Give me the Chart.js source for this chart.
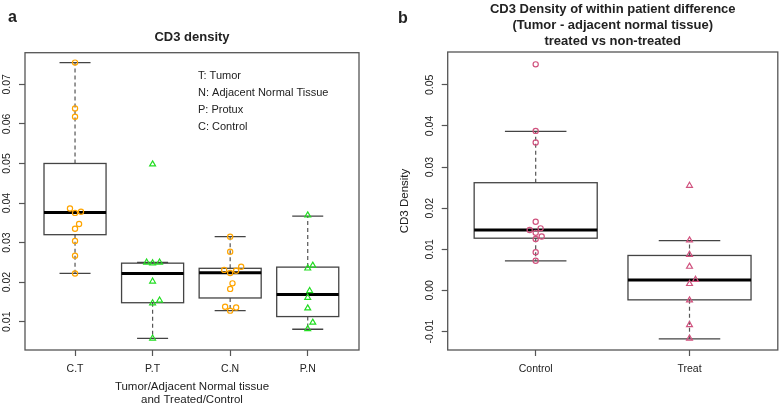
<!DOCTYPE html>
<html><head><meta charset="utf-8">
<script src="https://cdn.jsdelivr.net/npm/chart.js@4/dist/chart.umd.min.js"></script>
<style>
html,body{margin:0;padding:0;background:#fff;width:783px;height:405px;overflow:hidden}
#a{position:absolute;left:0;top:0}
#b{position:absolute;left:391px;top:0}
</style></head><body>
<canvas id="a" width="391" height="405"></canvas>
<canvas id="b" width="392" height="405"></canvas>
<script>
// ---------- Panel a data ----------
const catsA = ['C.T', 'P.T', 'C.N', 'P.N'];
const yTicksA = [0.01, 0.02, 0.03, 0.04, 0.05, 0.06, 0.07];
const yTickLabelsA = ['0.01', '0.02', '0.03', '0.04', '0.05', '0.06', '0.07'];
const whiskLoA = [0.0222, 0.0058, 0.0128, 0.0081];
const q1A      = [0.0320, 0.0148, 0.0160, 0.0113];
const medA     = [0.0376, 0.0222, 0.0224, 0.0169];
const q3A      = [0.0500, 0.0248, 0.0235, 0.0238];
const whiskHiA = [0.0755, 0.0250, 0.0315, 0.0367];

const ctVals = [0.0755, 0.0639, 0.0618, 0.0386, 0.0375, 0.0378, 0.0347, 0.0335, 0.0304, 0.0267, 0.0222];
const ctJit  = [0, 0, 0, -0.065, 0, 0.077, 0.052, 0, 0, 0, 0];
const ptVals = [0.0498, 0.0250, 0.0248, 0.0250, 0.0202, 0.0154, 0.0147, 0.0058];
const ptJit  = [0, -0.077, 0, 0.09, 0, 0.09, 0, 0];
const cnVals = [0.0315, 0.0277, 0.0239, 0.0231, 0.0223, 0.0229, 0.0197, 0.0183, 0.0138, 0.0128, 0.0136];
const cnJit  = [0, 0, 0.142, -0.077, 0, 0.077, 0.03, 0, -0.065, 0, 0.077];
const pnVals = [0.0369, 0.0242, 0.0235, 0.0178, 0.0161, 0.0134, 0.0098, 0.0082];
const pnJit  = [0, 0.065, 0, 0.025, 0, 0, 0.065, 0];
const legendLinesA = ['T: Tumor', 'N: Adjacent Normal Tissue', 'P: Protux', 'C: Control'];

// ---------- Panel b data ----------
const catsB = ['Control', 'Treat'];
const yTicksB = [-0.01, 0.00, 0.01, 0.02, 0.03, 0.04, 0.05];
const yTickLabelsB = ['-0.01', '0.00', '0.01', '0.02', '0.03', '0.04', '0.05'];
const whiskLoB = [0.0072, -0.0118];
const q1B      = [0.0127, -0.0023];
const medB     = [0.0147, 0.0025];
const q3B      = [0.0262, 0.0085];
const whiskHiB = [0.0387, 0.0121];
const controlVals = [0.0550, 0.0388, 0.0360, 0.0167, 0.0147, 0.0151, 0.0140, 0.0131, 0.0125, 0.0093, 0.0072];
const controlJit  = [0, 0, 0, 0, -0.039, 0.032, 0, 0.039, 0, 0, 0];
const treatVals = [0.0255, 0.0122, 0.0087, 0.0058, 0.0026, 0.0016, -0.0024, -0.0084, -0.0117];
const treatJit  = [0, 0, 0, 0, 0.039, 0, 0, 0, 0];

const FONT = "'Liberation Sans', Arial, sans-serif";
const FRAME = '#555';

function pts(vals, jit, g) { return vals.map((v, j) => ({x: g + jit[j], y: v})); }

const boxPlugin = {
  id: 'boxes',
  beforeDatasetsDraw(chart, args, o) {
    const x = chart.scales.x, y = chart.scales.y, ctx = chart.ctx;
    const py = v => y.getPixelForValue(v);
    ctx.save();
    o.med.forEach((m, i) => {
      const c = i + 1;
      const xc = x.getPixelForValue(c);
      const xl = x.getPixelForValue(c - 0.4), xr = x.getPixelForValue(c + 0.4);
      const cl = x.getPixelForValue(c - 0.2), cr = x.getPixelForValue(c + 0.2);
      ctx.strokeStyle = '#555'; ctx.lineWidth = 1.2;
      ctx.setLineDash([4, 3]);
      ctx.beginPath();
      ctx.moveTo(xc, py(o.q3[i])); ctx.lineTo(xc, py(o.hi[i]));
      ctx.moveTo(xc, py(o.q1[i])); ctx.lineTo(xc, py(o.lo[i]));
      ctx.stroke();
      ctx.setLineDash([]);
      ctx.strokeStyle = '#444'; ctx.lineWidth = 1.3;
      ctx.beginPath();
      ctx.moveTo(cl, py(o.hi[i])); ctx.lineTo(cr, py(o.hi[i]));
      ctx.moveTo(cl, py(o.lo[i])); ctx.lineTo(cr, py(o.lo[i]));
      ctx.stroke();
      ctx.fillStyle = '#fff';
      ctx.strokeRect(xl, py(o.q3[i]), xr - xl, py(o.q1[i]) - py(o.q3[i]));
      ctx.strokeStyle = '#000'; ctx.lineWidth = 3;
      ctx.beginPath();
      ctx.moveTo(xl, py(m)); ctx.lineTo(xr, py(m));
      ctx.stroke();
    });
    ctx.restore();
  },
  afterDraw(chart, args, o) {
    const ctx = chart.ctx, a = chart.chartArea, y = chart.scales.y;
    ctx.save();
    ctx.strokeStyle = FRAME; ctx.lineWidth = 1.3;
    ctx.strokeRect(a.left, a.top, a.right - a.left, a.bottom - a.top);
    ctx.fillStyle = '#222';
    ctx.font = '10.5px ' + FONT;
    ctx.textAlign = 'center'; ctx.textBaseline = 'middle';
    o.yTicks.forEach((v, i) => {
      ctx.save();
      ctx.translate(a.left - 17.5, y.getPixelForValue(v));
      ctx.rotate(-Math.PI / 2);
      ctx.fillText(o.yLabels[i], 0, 0);
      ctx.restore();
    });
    ctx.textBaseline = 'alphabetic';
    ctx.font = 'bold 13px ' + FONT;
    const cx = (a.left + a.right) / 2;
    o.title.forEach((t, i) => ctx.fillText(t, cx, o.titleY[i]));
    ctx.textAlign = 'left';
    ctx.font = 'bold 16px ' + FONT;
    ctx.fillText(o.letter[0], o.letter[1], o.letter[2]);
    if (o.legend) {
      ctx.font = '11px ' + FONT;
      ctx.textBaseline = 'middle';
      o.legend.forEach((t, i) => ctx.fillText(t, 198, 76 + 17 * i));
    }
    ctx.restore();
  }
};

function makeChart(id, cfg) {
  return new Chart(document.getElementById(id), {
    type: 'scatter',
    data: {datasets: cfg.datasets},
    plugins: [boxPlugin],
    options: {
      responsive: false, animation: false, devicePixelRatio: 1,
      layout: {padding: {top: cfg.top, right: cfg.right, left: 0, bottom: 0}},
      plugins: {
        legend: {display: false}, tooltip: {enabled: false}, title: {display: false},
        boxes: cfg.boxes
      },
      scales: {
        x: {
          type: 'linear', min: cfg.xmin, max: cfg.xmax,
          afterFit: s => { s.height = 55; },
          afterBuildTicks: s => { s.ticks = cfg.cats.map((c, i) => ({value: i + 1})); },
          ticks: {
            padding: 6.5, color: '#222', font: {family: FONT, size: 10.5},
            callback: (v) => cfg.cats[Math.round(v) - 1], maxRotation: 0, autoSkip: false
          },
          grid: {drawOnChartArea: false, drawTicks: true, tickLength: 6, tickColor: FRAME, tickWidth: 1.2},
          border: {display: false},
          title: cfg.xTitle ? {display: true, text: cfg.xTitle, color: '#222',
            font: {family: FONT, size: 11.5, lineHeight: '13.3px'}, padding: {top: 0, bottom: -1.5}} : {display: false}
        },
        y: {
          type: 'linear', min: cfg.ymin, max: cfg.ymax,
          afterFit: s => { s.width = cfg.yWidth; },
          afterBuildTicks: s => { s.ticks = cfg.yTicks.map(v => ({value: v})); },
          ticks: {display: false},
          grid: {drawOnChartArea: false, drawTicks: true, tickLength: 6, tickColor: FRAME, tickWidth: 1.2},
          border: {display: false},
          title: cfg.yTitle ? {display: true, text: cfg.yTitle, color: '#222',
            font: {family: FONT, size: 11.5}, padding: {top: 7, bottom: 0}} : {display: false}
        }
      }
    }
  });
}

const orange = '#FFA500', green = '#22DD22', pink = '#D0527E';
const circ = c => ({pointStyle: 'circle', pointRadius: 2.6, pointBorderWidth: 1.2, borderColor: c, backgroundColor: 'rgba(0,0,0,0)'});
const tri = c => ({pointStyle: 'triangle', pointRadius: 3.4, pointBorderWidth: 1.2, borderColor: c, backgroundColor: 'rgba(0,0,0,0)'});

makeChart('a', {
  cats: catsA, yTicks: yTicksA, top: 52.7, right: 32, yWidth: 25,
  xmin: 0.355, xmax: 4.661, ymin: 0.00285, ymax: 0.078,
  xTitle: ['Tumor/Adjacent Normal tissue', 'and Treated/Control'],
  datasets: [
    Object.assign({label: 'C.T', data: pts(ctVals, ctJit, 1)}, circ(orange)),
    Object.assign({label: 'P.T', data: pts(ptVals, ptJit, 2)}, tri(green)),
    Object.assign({label: 'C.N', data: pts(cnVals, cnJit, 3)}, circ(orange)),
    Object.assign({label: 'P.N', data: pts(pnVals, pnJit, 4)}, tri(green))
  ],
  boxes: {lo: whiskLoA, q1: q1A, med: medA, q3: q3A, hi: whiskHiA,
    yTicks: yTicksA, yLabels: yTickLabelsA, title: ['CD3 density'], titleY: [41],
    letter: ['a', 8, 21.7], legend: legendLinesA}
});

makeChart('b', {
  cats: catsB, yTicks: yTicksB, top: 52, right: 1.3, yWidth: 56.7,
  xmin: 0.428, xmax: 2.574, ymin: -0.0145, ymax: 0.058,
  yTitle: 'CD3 Density',
  datasets: [
    Object.assign({label: 'Control', data: pts(controlVals, controlJit, 1)}, circ(pink)),
    Object.assign({label: 'Treat', data: pts(treatVals, treatJit, 2)}, tri(pink))
  ],
  boxes: {lo: whiskLoB, q1: q1B, med: medB, q3: q3B, hi: whiskHiB,
    yTicks: yTicksB, yLabels: yTickLabelsB,
    title: ['CD3 Density of within patient difference', '(Tumor - adjacent normal tissue)', 'treated vs non-treated'],
    titleY: [12.5, 28.5, 44.5], letter: ['b', 7, 23.3]}
});
</script>
</body></html>
